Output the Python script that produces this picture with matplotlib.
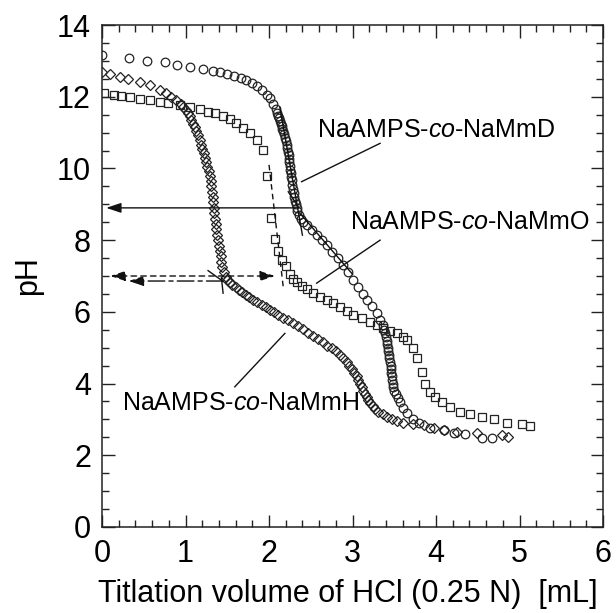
import matplotlib
matplotlib.use("Agg")
import matplotlib.pyplot as plt
from matplotlib.ticker import MultipleLocator

plt.rcParams['font.family'] = ['Liberation Sans', 'DejaVu Sans']
plt.rcParams['mathtext.fontset'] = 'custom'
plt.rcParams['mathtext.rm'] = 'Liberation Sans'
plt.rcParams['mathtext.it'] = 'Liberation Sans:italic'

# NaAMPS-co-NaMmD (circles)
d_x = [0.00, 0.32, 0.54, 0.76, 0.90, 1.05, 1.21, 1.33, 1.41, 1.50, 1.58, 1.66, 1.73, 1.80,
       1.86, 1.92, 1.97, 2.01, 2.05, 2.08, 2.10, 2.11, 2.12, 2.13, 2.14, 2.15, 2.16, 2.17,
       2.18, 2.19, 2.20, 2.21, 2.22, 2.23, 2.235, 2.24, 2.245, 2.25, 2.255, 2.26, 2.265,
       2.27, 2.28, 2.29, 2.295, 2.30, 2.31, 2.32, 2.33, 2.34, 2.36, 2.38, 2.41, 2.45, 2.51,
       2.57, 2.63, 2.69, 2.76, 2.83, 2.89, 2.95, 3.01, 3.07, 3.12, 3.17, 3.23, 3.29, 3.33,
       3.36, 3.38, 3.39, 3.40, 3.41, 3.415, 3.42, 3.43, 3.435, 3.44, 3.45, 3.455, 3.46,
       3.465, 3.47, 3.475, 3.48, 3.49, 3.50, 3.52, 3.54, 3.57, 3.61, 3.65, 3.72, 3.79, 3.93,
       4.09, 4.21, 4.35, 4.55, 4.67]
d_ph = [13.16, 13.07, 13.01, 12.97, 12.88, 12.83, 12.77, 12.72, 12.69, 12.64, 12.58, 12.52,
        12.46, 12.38, 12.30, 12.18, 12.06, 11.96, 11.80, 11.66, 11.55, 11.47, 11.40, 11.32,
        11.25, 11.18, 11.11, 11.04, 10.95, 10.86, 10.76, 10.66, 10.57, 10.47, 10.37, 10.27,
        10.17, 10.07, 9.97, 9.87, 9.77, 9.67, 9.55, 9.43, 9.32, 9.21, 9.10, 9.00, 8.90, 8.80,
        8.70, 8.60, 8.50, 8.42, 8.28, 8.14, 8.00, 7.86, 7.68, 7.50, 7.31, 7.10, 6.89, 6.68,
        6.50, 6.33, 6.15, 5.97, 5.78, 5.62, 5.50, 5.40, 5.30, 5.20, 5.10, 5.00, 4.90, 4.80,
        4.70, 4.60, 4.50, 4.40, 4.30, 4.20, 4.10, 4.00, 3.90, 3.80, 3.70, 3.60, 3.48, 3.32,
        3.17, 3.02, 2.90, 2.76, 2.70, 2.63, 2.59, 2.49, 2.47]

# NaAMPS-co-NaMmH (diamonds)
h_x = [0.00, 0.10, 0.22, 0.31, 0.45, 0.57, 0.69, 0.77, 0.83, 0.89, 0.94, 0.97, 1.00, 1.03,
       1.05, 1.07, 1.09, 1.11, 1.13, 1.15, 1.17, 1.19, 1.20, 1.22, 1.23, 1.25, 1.26, 1.28,
       1.29, 1.30, 1.31, 1.32, 1.33, 1.335, 1.34, 1.345, 1.35, 1.36, 1.37, 1.38, 1.39, 1.40,
       1.41, 1.42, 1.43, 1.44, 1.46, 1.48, 1.50, 1.53, 1.56, 1.60, 1.64, 1.68, 1.72, 1.76,
       1.81, 1.86, 1.91, 1.96, 2.01, 2.06, 2.11, 2.17, 2.23, 2.29, 2.35, 2.41, 2.47, 2.53,
       2.59, 2.65, 2.70, 2.75, 2.80, 2.85, 2.89, 2.93, 2.96, 2.99, 3.02, 3.05, 3.07, 3.09,
       3.11, 3.13, 3.15, 3.17, 3.19, 3.21, 3.24, 3.27, 3.31, 3.36, 3.41, 3.47, 3.53, 3.61,
       3.73, 3.85, 3.97, 4.09, 4.25, 4.49, 4.79, 4.86]
h_ph = [12.70, 12.63, 12.56, 12.49, 12.42, 12.33, 12.20, 12.09, 12.00, 11.90, 11.80, 11.72,
        11.63, 11.54, 11.45, 11.35, 11.25, 11.15, 11.05, 10.92, 10.80, 10.65, 10.55, 10.42,
        10.30, 10.17, 10.05, 9.92, 9.78, 9.65, 9.50, 9.35, 9.20, 9.05, 8.90, 8.75, 8.60,
        8.45, 8.30, 8.15, 8.00, 7.85, 7.70, 7.55, 7.40, 7.25, 7.10, 6.98, 6.90, 6.82, 6.75,
        6.68, 6.61, 6.54, 6.48, 6.41, 6.34, 6.27, 6.20, 6.13, 6.06, 5.99, 5.92, 5.84, 5.76,
        5.68, 5.60, 5.51, 5.42, 5.33, 5.24, 5.15, 5.06, 4.98, 4.90, 4.80, 4.70, 4.60, 4.50,
        4.40, 4.30, 4.20, 4.10, 4.00, 3.90, 3.80, 3.70, 3.62, 3.54, 3.46, 3.38, 3.30, 3.22,
        3.14, 3.07, 3.01, 2.95, 2.90, 2.87, 2.84, 2.77, 2.70, 2.66, 2.62, 2.57, 2.52]

# NaAMPS-co-NaMmO (squares)
o_x = [0.02, 0.14, 0.23, 0.34, 0.46, 0.57, 0.69, 0.79, 0.93, 1.05, 1.17, 1.27, 1.35, 1.45,
       1.53, 1.61, 1.69, 1.77, 1.85, 1.93, 1.98, 2.02, 2.07, 2.11, 2.15, 2.20, 2.25, 2.29,
       2.33, 2.39, 2.45, 2.53, 2.61, 2.69, 2.77, 2.85, 2.93, 3.01, 3.11, 3.21, 3.29, 3.37,
       3.45, 3.53, 3.60, 3.65, 3.73, 3.77, 3.83, 3.87, 3.93, 3.99, 4.07, 4.17, 4.29, 4.41,
       4.55, 4.69, 4.85, 5.03, 5.13]
o_ph = [12.09, 12.05, 12.02, 12.00, 11.95, 11.92, 11.86, 11.82, 11.77, 11.70, 11.65, 11.58,
        11.54, 11.46, 11.37, 11.26, 11.12, 10.98, 10.79, 10.51, 9.79, 8.61, 8.02, 7.70,
        7.45, 7.28, 7.05, 6.92, 6.82, 6.72, 6.63, 6.52, 6.42, 6.33, 6.24, 6.14, 6.03, 5.91,
        5.82, 5.73, 5.64, 5.54, 5.47, 5.40, 5.30, 5.21, 4.98, 4.70, 4.33, 4.00, 3.77, 3.63,
        3.49, 3.35, 3.21, 3.15, 3.08, 3.00, 2.91, 2.87, 2.83]

x_ticks = [0, 1, 2, 3, 4, 5, 6]
y_ticks = [0, 2, 4, 6, 8, 10, 12, 14]

fig = plt.figure(figsize=(6.16, 6.13), dpi=100)
ax = fig.add_axes([0.1656, 0.1403, 0.8134, 0.8189])

mk = dict(linestyle='none', markerfacecolor='none', markeredgecolor='#222222',
          markeredgewidth=0.9)
ax.plot(o_x, o_ph, marker='s', markersize=6.2, **mk)
ax.plot(d_x, d_ph, marker='o', markersize=6.2, **mk)
ax.plot(h_x, h_ph, marker='D', markersize=4.6, **mk)

lc = '#111111'
# tangent / guide lines
ax.plot([2.13, 2.40], [11.7, 8.14], color=lc, lw=1.0)
ax.plot([2.23, 2.35], [9.35, 8.93], color=lc, lw=1.0)
ax.plot([2.37, 3.00], [8.75, 7.05], color=lc, lw=1.0)
ax.plot([2.00, 2.17], [10.1, 6.7], color=lc, lw=1.0, linestyle=(0, (4, 3)))
ax.plot([1.27, 1.45], [7.15, 6.85], color=lc, lw=1.0)
ax.plot([1.43, 1.45], [6.95, 6.52], color=lc, lw=1.0)

# arrows to the pH axis
ax.annotate('', xy=(0.05, 8.9), xytext=(2.31, 8.9),
            arrowprops=dict(arrowstyle='-|>,head_length=0.9,head_width=0.3',
                            color=lc, lw=1.0, shrinkA=0, shrinkB=0))
ax.annotate('', xy=(0.1, 7.0), xytext=(2.07, 7.0),
            arrowprops=dict(arrowstyle='<|-|>,head_length=0.9,head_width=0.3',
                            color=lc, lw=1.0, linestyle=(0, (4, 3)),
                            shrinkA=0, shrinkB=0))
ax.annotate('', xy=(0.32, 6.86), xytext=(1.45, 6.86),
            arrowprops=dict(arrowstyle='-|>,head_length=0.9,head_width=0.3',
                            color=lc, lw=1.0, linestyle=(0, (12, 3, 3, 3)),
                            shrinkA=0, shrinkB=0))

# labels with leader lines
fs_lab = 18
ax.text(2.57, 11.07, r'NaAMPS-$\mathit{co}$-NaMmD', fontsize=fs_lab, ha='left', va='center')
ax.plot([3.33, 2.39], [10.70, 9.63], color=lc, lw=1.0)
ax.text(2.97, 8.52, r'NaAMPS-$\mathit{co}$-NaMmO', fontsize=fs_lab, ha='left', va='center')
ax.plot([3.33, 2.57], [8.00, 6.80], color=lc, lw=1.0)
ax.text(0.235, 3.47, r'NaAMPS-$\mathit{co}$-NaMmH', fontsize=fs_lab, ha='left', va='center')
ax.plot([1.59, 2.19], [3.91, 5.40], color=lc, lw=1.0)

ax.set_xlim(0, 6)
ax.set_ylim(0, 14)
ax.set_xticks(x_ticks)
ax.set_yticks(y_ticks)
ax.xaxis.set_minor_locator(MultipleLocator(0.2))
ax.yaxis.set_minor_locator(MultipleLocator(0.5))
ax.tick_params(which='both', direction='in', top=True, right=True, width=1.0, color='#222222')
ax.tick_params(which='major', length=9, labelsize=22)
ax.tick_params(axis='x', which='major', pad=9)
ax.tick_params(axis='y', which='major', pad=8)
ax.tick_params(which='minor', length=5)
for s in ax.spines.values():
    s.set_linewidth(1.1)
    s.set_color('#222222')

ax.set_xlabel('Titlation volume of HCl (0.25 N)  [mL]', fontsize=22)
ax.xaxis.set_label_coords(0.49, -0.104)
ax.set_ylabel('pH', fontsize=22, labelpad=10)

fig.savefig('out.png', dpi=100)
